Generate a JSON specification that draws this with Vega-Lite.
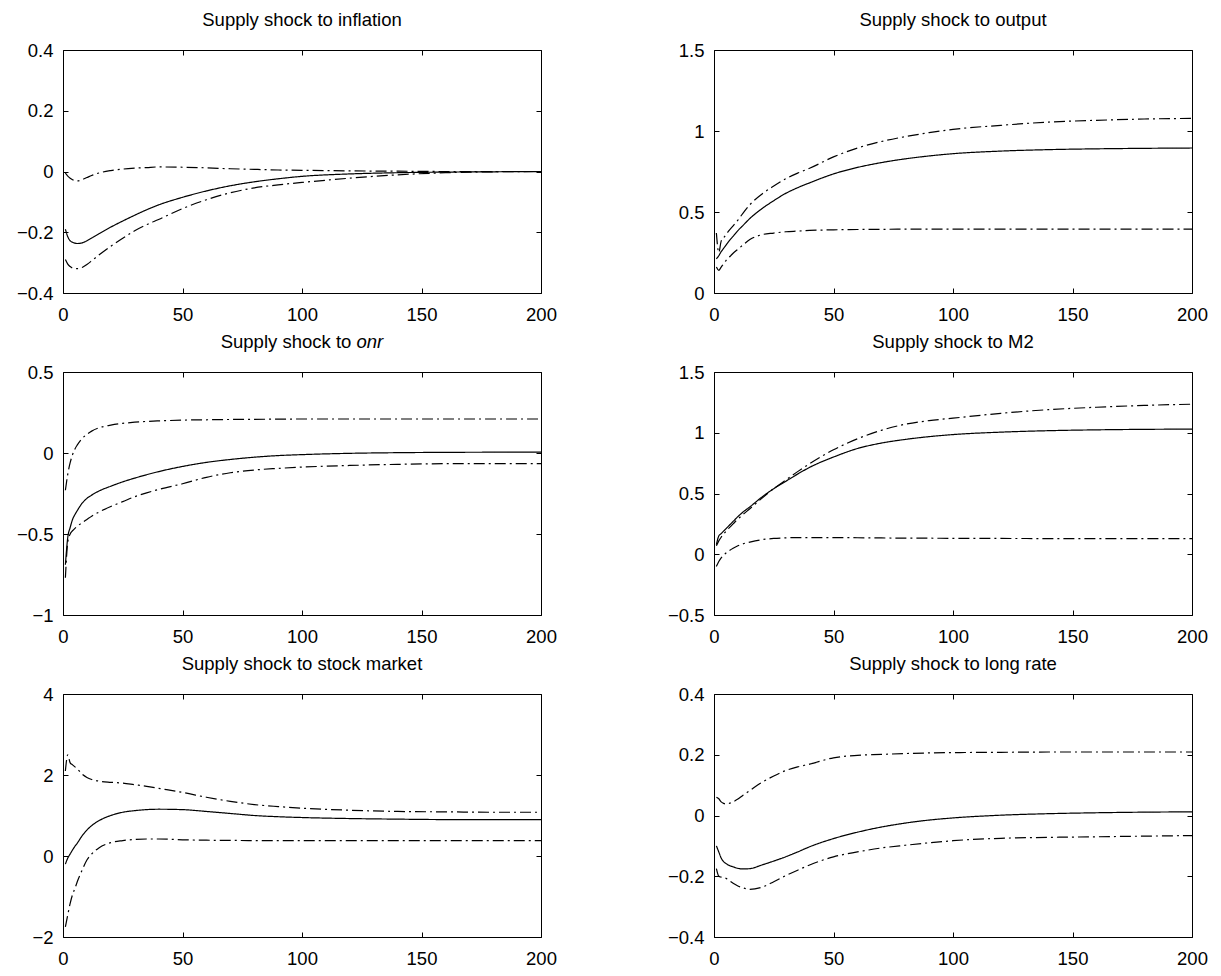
{
  "$schema": "https://vega.github.io/schema/vega-lite/v6.json",
  "background": "white",
  "padding": {"left": 15, "top": 10, "right": 13, "bottom": 5},
  "datasets": {
    "irf": [
      {"p":"inf","x":1,"m":-0.19,"lo":-0.29,"hi":-0.005},
      {"p":"inf","x":2,"m":-0.215,"lo":-0.305,"hi":-0.015},
      {"p":"inf","x":3,"m":-0.228,"lo":-0.313,"hi":-0.022},
      {"p":"inf","x":4,"m":-0.233,"lo":-0.318,"hi":-0.027},
      {"p":"inf","x":5,"m":-0.236,"lo":-0.32,"hi":-0.03},
      {"p":"inf","x":6,"m":-0.237,"lo":-0.32,"hi":-0.031},
      {"p":"inf","x":8,"m":-0.235,"lo":-0.316,"hi":-0.027},
      {"p":"inf","x":10,"m":-0.228,"lo":-0.306,"hi":-0.02},
      {"p":"inf","x":12,"m":-0.219,"lo":-0.294,"hi":-0.013},
      {"p":"inf","x":15,"m":-0.205,"lo":-0.275,"hi":-0.005},
      {"p":"inf","x":20,"m":-0.183,"lo":-0.246,"hi":0.003},
      {"p":"inf","x":25,"m":-0.163,"lo":-0.22,"hi":0.008},
      {"p":"inf","x":30,"m":-0.144,"lo":-0.195,"hi":0.011},
      {"p":"inf","x":35,"m":-0.126,"lo":-0.175,"hi":0.013},
      {"p":"inf","x":40,"m":-0.11,"lo":-0.158,"hi":0.015},
      {"p":"inf","x":50,"m":-0.085,"lo":-0.122,"hi":0.014},
      {"p":"inf","x":60,"m":-0.064,"lo":-0.093,"hi":0.012},
      {"p":"inf","x":70,"m":-0.047,"lo":-0.07,"hi":0.009},
      {"p":"inf","x":80,"m":-0.034,"lo":-0.054,"hi":0.007},
      {"p":"inf","x":90,"m":-0.024,"lo":-0.044,"hi":0.005},
      {"p":"inf","x":100,"m":-0.016,"lo":-0.036,"hi":0.004},
      {"p":"inf","x":120,"m":-0.008,"lo":-0.022,"hi":0.002},
      {"p":"inf","x":140,"m":-0.004,"lo":-0.011,"hi":0.001},
      {"p":"inf","x":160,"m":-0.002,"lo":-0.004,"hi":0.0},
      {"p":"inf","x":180,"m":-0.001,"lo":-0.001,"hi":0.0},
      {"p":"inf","x":200,"m":0.0,"lo":0.0,"hi":0.0},

      {"p":"out","x":1,"m":0.21,"lo":0.16,"hi":0.37},
      {"p":"out","x":2,"m":0.23,"lo":0.14,"hi":0.25},
      {"p":"out","x":3,"m":0.255,"lo":0.16,"hi":0.32},
      {"p":"out","x":4,"m":0.275,"lo":0.18,"hi":0.34},
      {"p":"out","x":5,"m":0.295,"lo":0.2,"hi":0.36},
      {"p":"out","x":6,"m":0.315,"lo":0.215,"hi":0.38},
      {"p":"out","x":8,"m":0.35,"lo":0.245,"hi":0.415},
      {"p":"out","x":10,"m":0.385,"lo":0.27,"hi":0.45},
      {"p":"out","x":12,"m":0.415,"lo":0.295,"hi":0.49},
      {"p":"out","x":15,"m":0.46,"lo":0.33,"hi":0.545},
      {"p":"out","x":20,"m":0.52,"lo":0.36,"hi":0.61},
      {"p":"out","x":25,"m":0.57,"lo":0.37,"hi":0.66},
      {"p":"out","x":30,"m":0.615,"lo":0.378,"hi":0.705},
      {"p":"out","x":35,"m":0.65,"lo":0.382,"hi":0.74},
      {"p":"out","x":40,"m":0.68,"lo":0.386,"hi":0.77},
      {"p":"out","x":50,"m":0.735,"lo":0.39,"hi":0.84},
      {"p":"out","x":60,"m":0.775,"lo":0.392,"hi":0.895},
      {"p":"out","x":70,"m":0.805,"lo":0.393,"hi":0.935},
      {"p":"out","x":80,"m":0.828,"lo":0.394,"hi":0.965},
      {"p":"out","x":90,"m":0.846,"lo":0.394,"hi":0.99},
      {"p":"out","x":100,"m":0.86,"lo":0.394,"hi":1.01},
      {"p":"out","x":120,"m":0.876,"lo":0.394,"hi":1.035},
      {"p":"out","x":140,"m":0.885,"lo":0.394,"hi":1.055},
      {"p":"out","x":160,"m":0.89,"lo":0.394,"hi":1.066},
      {"p":"out","x":180,"m":0.893,"lo":0.394,"hi":1.074},
      {"p":"out","x":200,"m":0.895,"lo":0.394,"hi":1.078},

      {"p":"onr","x":1,"m":-0.69,"lo":-0.77,"hi":-0.23},
      {"p":"onr","x":2,"m":-0.52,"lo":-0.55,"hi":-0.13},
      {"p":"onr","x":3,"m":-0.46,"lo":-0.5,"hi":-0.06},
      {"p":"onr","x":4,"m":-0.41,"lo":-0.48,"hi":-0.01},
      {"p":"onr","x":5,"m":-0.38,"lo":-0.465,"hi":0.025},
      {"p":"onr","x":6,"m":-0.355,"lo":-0.452,"hi":0.05},
      {"p":"onr","x":8,"m":-0.31,"lo":-0.43,"hi":0.09},
      {"p":"onr","x":10,"m":-0.28,"lo":-0.41,"hi":0.115},
      {"p":"onr","x":12,"m":-0.26,"lo":-0.39,"hi":0.135},
      {"p":"onr","x":15,"m":-0.235,"lo":-0.365,"hi":0.155},
      {"p":"onr","x":20,"m":-0.205,"lo":-0.33,"hi":0.172},
      {"p":"onr","x":25,"m":-0.178,"lo":-0.3,"hi":0.183},
      {"p":"onr","x":30,"m":-0.155,"lo":-0.27,"hi":0.19},
      {"p":"onr","x":35,"m":-0.134,"lo":-0.246,"hi":0.195},
      {"p":"onr","x":40,"m":-0.115,"lo":-0.225,"hi":0.198},
      {"p":"onr","x":50,"m":-0.083,"lo":-0.19,"hi":0.203},
      {"p":"onr","x":60,"m":-0.058,"lo":-0.15,"hi":0.205},
      {"p":"onr","x":70,"m":-0.04,"lo":-0.122,"hi":0.207},
      {"p":"onr","x":80,"m":-0.026,"lo":-0.105,"hi":0.208},
      {"p":"onr","x":90,"m":-0.016,"lo":-0.095,"hi":0.209},
      {"p":"onr","x":100,"m":-0.01,"lo":-0.087,"hi":0.21},
      {"p":"onr","x":120,"m":-0.002,"lo":-0.077,"hi":0.21},
      {"p":"onr","x":140,"m":0.002,"lo":-0.07,"hi":0.21},
      {"p":"onr","x":160,"m":0.004,"lo":-0.066,"hi":0.21},
      {"p":"onr","x":180,"m":0.005,"lo":-0.065,"hi":0.21},
      {"p":"onr","x":200,"m":0.006,"lo":-0.066,"hi":0.21},

      {"p":"m2","x":1,"m":0.08,"lo":-0.1,"hi":0.07},
      {"p":"m2","x":2,"m":0.15,"lo":-0.06,"hi":0.11},
      {"p":"m2","x":3,"m":0.17,"lo":-0.03,"hi":0.14},
      {"p":"m2","x":4,"m":0.19,"lo":-0.01,"hi":0.165},
      {"p":"m2","x":5,"m":0.21,"lo":0.01,"hi":0.19},
      {"p":"m2","x":6,"m":0.23,"lo":0.025,"hi":0.21},
      {"p":"m2","x":8,"m":0.27,"lo":0.05,"hi":0.25},
      {"p":"m2","x":10,"m":0.31,"lo":0.07,"hi":0.29},
      {"p":"m2","x":12,"m":0.345,"lo":0.085,"hi":0.325},
      {"p":"m2","x":15,"m":0.39,"lo":0.1,"hi":0.375},
      {"p":"m2","x":20,"m":0.47,"lo":0.12,"hi":0.46},
      {"p":"m2","x":25,"m":0.54,"lo":0.13,"hi":0.54},
      {"p":"m2","x":30,"m":0.6,"lo":0.135,"hi":0.61},
      {"p":"m2","x":35,"m":0.66,"lo":0.137,"hi":0.68},
      {"p":"m2","x":40,"m":0.715,"lo":0.137,"hi":0.745},
      {"p":"m2","x":50,"m":0.8,"lo":0.137,"hi":0.86},
      {"p":"m2","x":60,"m":0.87,"lo":0.136,"hi":0.95},
      {"p":"m2","x":70,"m":0.915,"lo":0.134,"hi":1.02},
      {"p":"m2","x":80,"m":0.945,"lo":0.133,"hi":1.07},
      {"p":"m2","x":90,"m":0.968,"lo":0.132,"hi":1.1},
      {"p":"m2","x":100,"m":0.985,"lo":0.131,"hi":1.12},
      {"p":"m2","x":120,"m":1.005,"lo":0.13,"hi":1.16},
      {"p":"m2","x":140,"m":1.017,"lo":0.129,"hi":1.19},
      {"p":"m2","x":160,"m":1.024,"lo":0.128,"hi":1.21},
      {"p":"m2","x":180,"m":1.028,"lo":0.128,"hi":1.225},
      {"p":"m2","x":200,"m":1.03,"lo":0.128,"hi":1.235},

      {"p":"stk","x":1,"m":-0.2,"lo":-1.75,"hi":2.1},
      {"p":"stk","x":2,"m":-0.05,"lo":-1.45,"hi":2.5},
      {"p":"stk","x":3,"m":0.05,"lo":-1.17,"hi":2.3},
      {"p":"stk","x":4,"m":0.15,"lo":-0.95,"hi":2.25},
      {"p":"stk","x":5,"m":0.24,"lo":-0.8,"hi":2.2},
      {"p":"stk","x":6,"m":0.32,"lo":-0.63,"hi":2.15},
      {"p":"stk","x":8,"m":0.5,"lo":-0.35,"hi":2.02},
      {"p":"stk","x":10,"m":0.64,"lo":-0.1,"hi":1.94},
      {"p":"stk","x":12,"m":0.75,"lo":0.05,"hi":1.89},
      {"p":"stk","x":15,"m":0.87,"lo":0.2,"hi":1.85},
      {"p":"stk","x":20,"m":1.0,"lo":0.33,"hi":1.82},
      {"p":"stk","x":25,"m":1.08,"lo":0.38,"hi":1.8},
      {"p":"stk","x":30,"m":1.12,"lo":0.41,"hi":1.76},
      {"p":"stk","x":35,"m":1.145,"lo":0.42,"hi":1.72},
      {"p":"stk","x":40,"m":1.155,"lo":0.42,"hi":1.67},
      {"p":"stk","x":50,"m":1.145,"lo":0.4,"hi":1.57},
      {"p":"stk","x":60,"m":1.1,"lo":0.39,"hi":1.45},
      {"p":"stk","x":70,"m":1.05,"lo":0.385,"hi":1.35},
      {"p":"stk","x":80,"m":1.0,"lo":0.38,"hi":1.27},
      {"p":"stk","x":90,"m":0.97,"lo":0.38,"hi":1.22},
      {"p":"stk","x":100,"m":0.95,"lo":0.38,"hi":1.18},
      {"p":"stk","x":120,"m":0.925,"lo":0.38,"hi":1.13},
      {"p":"stk","x":140,"m":0.91,"lo":0.38,"hi":1.1},
      {"p":"stk","x":160,"m":0.9,"lo":0.38,"hi":1.09},
      {"p":"stk","x":180,"m":0.9,"lo":0.38,"hi":1.08},
      {"p":"stk","x":200,"m":0.9,"lo":0.38,"hi":1.08},

      {"p":"lr","x":1,"m":-0.1,"lo":-0.175,"hi":0.06},
      {"p":"lr","x":2,"m":-0.12,"lo":-0.2,"hi":0.055},
      {"p":"lr","x":3,"m":-0.14,"lo":-0.203,"hi":0.045},
      {"p":"lr","x":4,"m":-0.152,"lo":-0.205,"hi":0.04},
      {"p":"lr","x":5,"m":-0.158,"lo":-0.207,"hi":0.038},
      {"p":"lr","x":6,"m":-0.163,"lo":-0.212,"hi":0.039},
      {"p":"lr","x":8,"m":-0.169,"lo":-0.223,"hi":0.045},
      {"p":"lr","x":10,"m":-0.174,"lo":-0.232,"hi":0.054},
      {"p":"lr","x":12,"m":-0.176,"lo":-0.238,"hi":0.066},
      {"p":"lr","x":15,"m":-0.175,"lo":-0.243,"hi":0.082},
      {"p":"lr","x":20,"m":-0.163,"lo":-0.236,"hi":0.109},
      {"p":"lr","x":25,"m":-0.15,"lo":-0.218,"hi":0.13},
      {"p":"lr","x":30,"m":-0.136,"lo":-0.198,"hi":0.148},
      {"p":"lr","x":35,"m":-0.12,"lo":-0.18,"hi":0.16},
      {"p":"lr","x":40,"m":-0.103,"lo":-0.163,"hi":0.169},
      {"p":"lr","x":50,"m":-0.076,"lo":-0.136,"hi":0.19},
      {"p":"lr","x":60,"m":-0.055,"lo":-0.12,"hi":0.198},
      {"p":"lr","x":70,"m":-0.038,"lo":-0.107,"hi":0.201},
      {"p":"lr","x":80,"m":-0.025,"lo":-0.098,"hi":0.204},
      {"p":"lr","x":90,"m":-0.015,"lo":-0.09,"hi":0.206},
      {"p":"lr","x":100,"m":-0.008,"lo":-0.083,"hi":0.207},
      {"p":"lr","x":120,"m":0.001,"lo":-0.075,"hi":0.208},
      {"p":"lr","x":140,"m":0.006,"lo":-0.072,"hi":0.209},
      {"p":"lr","x":160,"m":0.009,"lo":-0.07,"hi":0.209},
      {"p":"lr","x":180,"m":0.011,"lo":-0.068,"hi":0.209},
      {"p":"lr","x":200,"m":0.012,"lo":-0.066,"hi":0.209}
    ]
  },
  "data": {"name": "irf"},
  "columns": 2,
  "bounds": "flush",
  "spacing": {"row": 79, "column": 173},
  "concat": [
    {
      "title": {"text": "Supply shock to inflation"},
      "width": 478, "height": 243,
      "transform": [{"filter": "datum.p == 'inf'"}, {"fold": ["m", "lo", "hi"], "as": ["s", "v"]}],
      "layer": [
        {"mark": {"type": "line", "interpolate": "monotone"},
         "encoding": {
           "x": {"field": "x", "type": "quantitative", "scale": {"domain": [0, 200], "nice": false}, "title": null, "axis": {"orient": "bottom", "values": [0, 50, 100, 150, 200]}},
           "y": {"field": "v", "type": "quantitative", "scale": {"domain": [-0.4, 0.4], "nice": false, "zero": false}, "title": null, "axis": {"orient": "left", "values": [-0.4, -0.2, 0, 0.2, 0.4]}},
           "strokeDash": {"field": "s", "type": "nominal", "scale": {"domain": ["m", "lo", "hi"], "range": [[1, 0], [11, 4, 2, 4], [11, 4, 2, 4]]}, "legend": null}}},
        {"mark": {"type": "line", "strokeOpacity": 0},
         "encoding": {
           "x": {"field": "x", "type": "quantitative", "title": null, "axis": {"orient": "top", "labels": false, "values": [0, 50, 100, 150, 200]}},
           "y": {"field": "v", "type": "quantitative", "title": null, "axis": {"orient": "right", "labels": false, "values": [-0.4, -0.2, 0, 0.2, 0.4]}},
           "detail": {"field": "s"}}}
      ],
      "resolve": {"axis": {"x": "independent", "y": "independent"}}
    },
    {
      "title": {"text": "Supply shock to output"},
      "width": 478, "height": 243,
      "transform": [{"filter": "datum.p == 'out'"}, {"fold": ["m", "lo", "hi"], "as": ["s", "v"]}],
      "layer": [
        {"mark": {"type": "line", "interpolate": "monotone"},
         "encoding": {
           "x": {"field": "x", "type": "quantitative", "scale": {"domain": [0, 200], "nice": false}, "title": null, "axis": {"orient": "bottom", "values": [0, 50, 100, 150, 200]}},
           "y": {"field": "v", "type": "quantitative", "scale": {"domain": [0, 1.5], "nice": false, "zero": false}, "title": null, "axis": {"orient": "left", "values": [0, 0.5, 1, 1.5]}},
           "strokeDash": {"field": "s", "type": "nominal", "scale": {"domain": ["m", "lo", "hi"], "range": [[1, 0], [11, 4, 2, 4], [11, 4, 2, 4]]}, "legend": null}}},
        {"mark": {"type": "line", "strokeOpacity": 0},
         "encoding": {
           "x": {"field": "x", "type": "quantitative", "title": null, "axis": {"orient": "top", "labels": false, "values": [0, 50, 100, 150, 200]}},
           "y": {"field": "v", "type": "quantitative", "title": null, "axis": {"orient": "right", "labels": false, "values": [0, 0.5, 1, 1.5]}},
           "detail": {"field": "s"}}}
      ],
      "resolve": {"axis": {"x": "independent", "y": "independent"}}
    },
    {
      "title": {"text": "Supply shock to", "dx": -16, "offset": -19},
      "width": 478, "height": 243,
      "transform": [{"filter": "datum.p == 'onr'"}, {"fold": ["m", "lo", "hi"], "as": ["s", "v"]}],
      "layer": [
        {"mark": {"type": "line", "interpolate": "monotone"},
         "encoding": {
           "x": {"field": "x", "type": "quantitative", "scale": {"domain": [0, 200], "nice": false}, "title": null, "axis": {"orient": "bottom", "values": [0, 50, 100, 150, 200]}},
           "y": {"field": "v", "type": "quantitative", "scale": {"domain": [-1, 0.5], "nice": false, "zero": false}, "title": null, "axis": {"orient": "left", "values": [-1, -0.5, 0, 0.5]}},
           "strokeDash": {"field": "s", "type": "nominal", "scale": {"domain": ["m", "lo", "hi"], "range": [[1, 0], [11, 4, 2, 4], [11, 4, 2, 4]]}, "legend": null}}},
        {"mark": {"type": "line", "strokeOpacity": 0},
         "encoding": {
           "x": {"field": "x", "type": "quantitative", "title": "onr", "axis": {"orient": "top", "labels": false, "values": [0, 50, 100, 150, 200], "titleFontStyle": "italic", "titleX": 293, "titleY": -25, "titleAlign": "left", "titleBaseline": "alphabetic", "titleAnchor": null}},
           "y": {"field": "v", "type": "quantitative", "title": null, "axis": {"orient": "right", "labels": false, "values": [-1, -0.5, 0, 0.5]}},
           "detail": {"field": "s"}}}
      ],
      "resolve": {"axis": {"x": "independent", "y": "independent"}}
    },
    {
      "title": {"text": "Supply shock to M2"},
      "width": 478, "height": 243,
      "transform": [{"filter": "datum.p == 'm2'"}, {"fold": ["m", "lo", "hi"], "as": ["s", "v"]}],
      "layer": [
        {"mark": {"type": "line", "interpolate": "monotone"},
         "encoding": {
           "x": {"field": "x", "type": "quantitative", "scale": {"domain": [0, 200], "nice": false}, "title": null, "axis": {"orient": "bottom", "values": [0, 50, 100, 150, 200]}},
           "y": {"field": "v", "type": "quantitative", "scale": {"domain": [-0.5, 1.5], "nice": false, "zero": false}, "title": null, "axis": {"orient": "left", "values": [-0.5, 0, 0.5, 1, 1.5]}},
           "strokeDash": {"field": "s", "type": "nominal", "scale": {"domain": ["m", "lo", "hi"], "range": [[1, 0], [11, 4, 2, 4], [11, 4, 2, 4]]}, "legend": null}}},
        {"mark": {"type": "line", "strokeOpacity": 0},
         "encoding": {
           "x": {"field": "x", "type": "quantitative", "title": null, "axis": {"orient": "top", "labels": false, "values": [0, 50, 100, 150, 200]}},
           "y": {"field": "v", "type": "quantitative", "title": null, "axis": {"orient": "right", "labels": false, "values": [-0.5, 0, 0.5, 1, 1.5]}},
           "detail": {"field": "s"}}}
      ],
      "resolve": {"axis": {"x": "independent", "y": "independent"}}
    },
    {
      "title": {"text": "Supply shock to stock market"},
      "width": 478, "height": 243,
      "transform": [{"filter": "datum.p == 'stk'"}, {"fold": ["m", "lo", "hi"], "as": ["s", "v"]}],
      "layer": [
        {"mark": {"type": "line", "interpolate": "monotone"},
         "encoding": {
           "x": {"field": "x", "type": "quantitative", "scale": {"domain": [0, 200], "nice": false}, "title": null, "axis": {"orient": "bottom", "values": [0, 50, 100, 150, 200]}},
           "y": {"field": "v", "type": "quantitative", "scale": {"domain": [-2, 4], "nice": false, "zero": false}, "title": null, "axis": {"orient": "left", "values": [-2, 0, 2, 4]}},
           "strokeDash": {"field": "s", "type": "nominal", "scale": {"domain": ["m", "lo", "hi"], "range": [[1, 0], [11, 4, 2, 4], [11, 4, 2, 4]]}, "legend": null}}},
        {"mark": {"type": "line", "strokeOpacity": 0},
         "encoding": {
           "x": {"field": "x", "type": "quantitative", "title": null, "axis": {"orient": "top", "labels": false, "values": [0, 50, 100, 150, 200]}},
           "y": {"field": "v", "type": "quantitative", "title": null, "axis": {"orient": "right", "labels": false, "values": [-2, 0, 2, 4]}},
           "detail": {"field": "s"}}}
      ],
      "resolve": {"axis": {"x": "independent", "y": "independent"}}
    },
    {
      "title": {"text": "Supply shock to long rate"},
      "width": 478, "height": 243,
      "transform": [{"filter": "datum.p == 'lr'"}, {"fold": ["m", "lo", "hi"], "as": ["s", "v"]}],
      "layer": [
        {"mark": {"type": "line", "interpolate": "monotone"},
         "encoding": {
           "x": {"field": "x", "type": "quantitative", "scale": {"domain": [0, 200], "nice": false}, "title": null, "axis": {"orient": "bottom", "values": [0, 50, 100, 150, 200]}},
           "y": {"field": "v", "type": "quantitative", "scale": {"domain": [-0.4, 0.4], "nice": false, "zero": false}, "title": null, "axis": {"orient": "left", "values": [-0.4, -0.2, 0, 0.2, 0.4]}},
           "strokeDash": {"field": "s", "type": "nominal", "scale": {"domain": ["m", "lo", "hi"], "range": [[1, 0], [11, 4, 2, 4], [11, 4, 2, 4]]}, "legend": null}}},
        {"mark": {"type": "line", "strokeOpacity": 0},
         "encoding": {
           "x": {"field": "x", "type": "quantitative", "title": null, "axis": {"orient": "top", "labels": false, "values": [0, 50, 100, 150, 200]}},
           "y": {"field": "v", "type": "quantitative", "title": null, "axis": {"orient": "right", "labels": false, "values": [-0.4, -0.2, 0, 0.2, 0.4]}},
           "detail": {"field": "s"}}}
      ],
      "resolve": {"axis": {"x": "independent", "y": "independent"}}
    }
  ],
  "config": {
    "view": {"stroke": "black", "strokeWidth": 1},
    "font": "Liberation Sans",
    "axis": {
      "grid": false, "domain": false,
      "tickColor": "black", "tickSize": -5, "tickWidth": 1,
      "labelFont": "Liberation Sans", "labelFontSize": 18.5, "labelColor": "black",
      "labelFlush": false, "labelOverlap": false, "labelBound": false,
      "format": ".2~f",
      "titleFont": "Liberation Sans", "titleFontSize": 18.5, "titleFontWeight": "normal", "titleColor": "black"
    },
    "axisX": {"labelPadding": 17},
    "axisY": {"labelPadding": 15},
    "title": {"font": "Liberation Sans", "fontSize": 18.5, "fontWeight": "normal", "color": "black", "baseline": "alphabetic", "frame": "group", "offset": 12, "anchor": "middle"},
    "line": {"color": "black", "strokeWidth": 1.2}
  }
}
